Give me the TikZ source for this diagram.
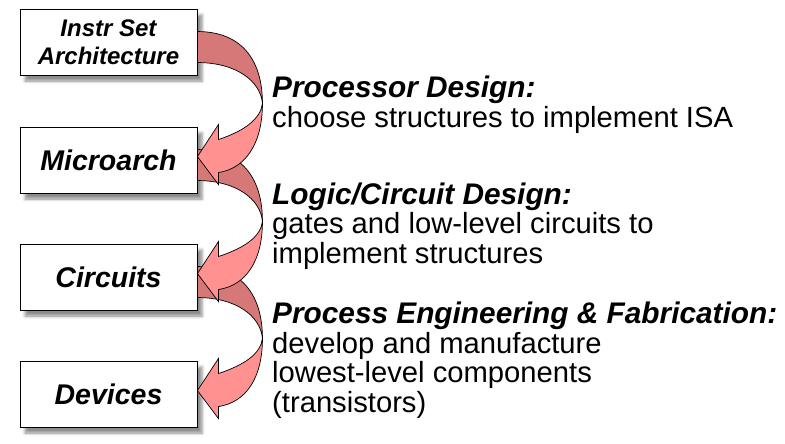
\documentclass[tikz,border=0pt]{standalone}
\usepackage{fontspec}
\setmainfont{Liberation Sans}
\usetikzlibrary{calc,shadows.blur}
\definecolor{ribbonrear}{RGB}{214,120,120}
\definecolor{ribbonfront}{RGB}{255,145,145}
\newcommand\bandrear[1]{%
  \filldraw[rearside] ($(#1.north east)+(0,23)$) .. controls +(43,0) and +(0,-45) .. ($(#1.north east)+(65,95)$) coordinate (#1twist)
    .. controls +(-2,-23) and +(38,0) .. ($(#1.north east)+(0,54)$) -- cycle;}
\newcommand\bandfront[2]{%
  \filldraw[frontside] (#1twist) .. controls +(0,40) and +(27,-4) .. ($(#2.north east)+(21,46)$) -- ($(#2.north east)+(21,58)$)
    -- ($(#2.north east)+(0,30)$) -- ($(#2.north east)+(21,-2)$) -- ($(#2.north east)+(21,13)$)
    .. controls +(27,-9) and +(-2,15) .. (#1twist) -- cycle;}
\newcommand\heading[1]{{\fontsize{29.8}{29.5}\selectfont\bfseries\itshape #1}}
\begin{document}
\begin{tikzpicture}[x=1pt,y=-1pt,
    stage/.style={draw,line width=0.9pt,fill=white,minimum width=177pt,minimum height=66pt,inner sep=0pt,align=center,
      font=\fontsize{28.5}{30}\selectfont\bfseries\itshape,
      blur shadow={shadow xshift=5pt,shadow yshift=-6pt,shadow blur radius=3pt,shadow opacity=45}},
    note/.style={anchor=base west,inner sep=0pt,align=left,font=\fontsize{29.2}{29.5}\selectfont},
    rearside/.style={fill=ribbonrear,draw=black,line width=0.7pt,line join=round},
    frontside/.style={fill=ribbonfront,draw=black,line width=0.7pt}]
  \useasboundingbox (0,0) rectangle (785,444);
  \node[stage,font=\fontsize{24}{28}\selectfont\bfseries\itshape] (isa) at (108.5,42) {Instr Set\\Architecture};
  \node[stage] (uarch) at (108.5,160) {Microarch};
  \node[stage] (circ) at (108.5,277) {Circuits};
  \node[stage] (dev) at (108.5,394) {Devices};
  \bandrear{circ}
  \bandrear{uarch}
  \bandrear{isa}
  \bandfront{circ}{dev}
  \bandfront{uarch}{circ}
  \bandfront{isa}{uarch}
  % anchored at the baseline of the last line
  \node[note] (procnote) at (272,127) {\heading{Processor Design:}\\choose structures to implement ISA};
  \node[note] (logicnote) at (272,263) {\heading{Logic/Circuit Design:}\\gates and low-level circuits to\\implement structures};
  \node[note] (fabnote) at (272,412) {\heading{Process Engineering \& Fabrication:}\\develop and manufacture\\lowest-level components\\(transistors)};
\end{tikzpicture}
\end{document}
